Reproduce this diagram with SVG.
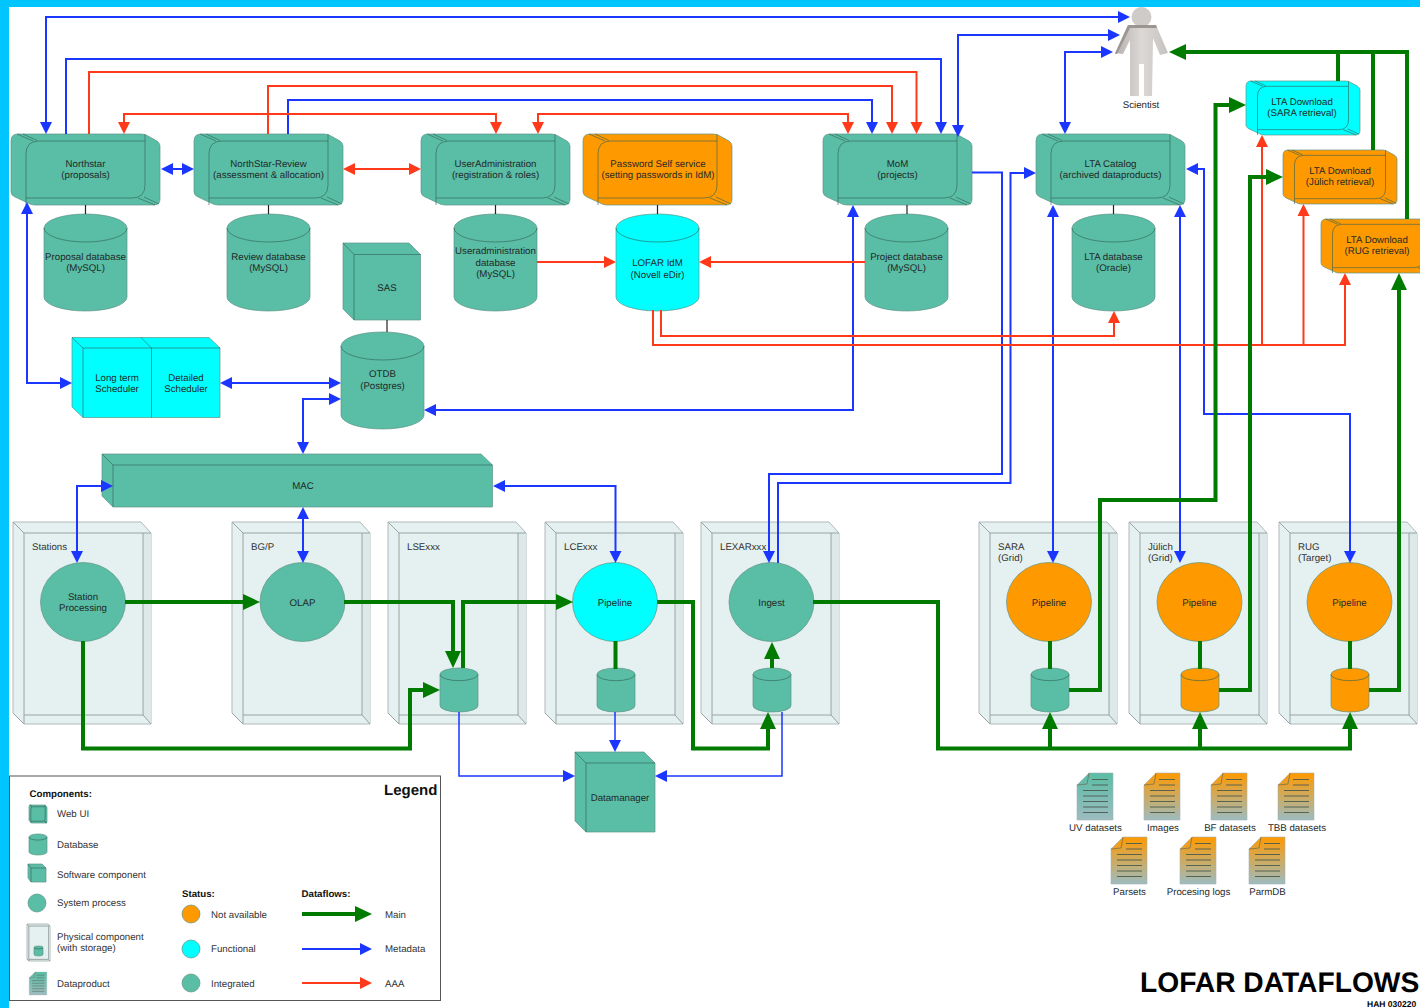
<svg xmlns="http://www.w3.org/2000/svg" xmlns:xlink="http://www.w3.org/1999/xlink" width="1420" height="1008" viewBox="0 0 1420 1008">
<style>
text{font-family:"Liberation Sans",Arial,sans-serif;font-size:9.7px;fill:#1f2a28;text-anchor:middle;text-rendering:geometricPrecision}
.l{text-anchor:start;fill:#333}
.h{text-anchor:start;font-weight:bold;fill:#111}
.t{fill:none;stroke:#2f5f54;stroke-width:.8;stroke-opacity:.75;vector-effect:non-scaling-stroke}
.o{stroke:#5f9587;stroke-width:.7;vector-effect:non-scaling-stroke}
.teal{fill:#5abda5}.cy{fill:#00ffff}.or{fill:#ff9900}
.conn path{fill:none}
.b{stroke:#1a36ff;stroke-width:2}
.b1{stroke:#1a36ff;stroke-width:1.5}
.r{stroke:#ff3a1a;stroke-width:2}
.g{stroke:#007b00;stroke-width:4}
.k{stroke:#222;stroke-width:1.2}
.ba{marker-end:url(#ab)}.bb{marker-start:url(#ab);marker-end:url(#ab)}
.ra{marker-end:url(#ar)}.rr{marker-start:url(#ar);marker-end:url(#ar)}
.ga{marker-end:url(#ag)}
</style>
<defs>
<marker id="ab" markerUnits="userSpaceOnUse" markerWidth="12" markerHeight="12" refX="0" refY="6" orient="auto-start-reverse" overflow="visible"><path d="M0 0L12 6L0 12Z" fill="#1a36ff"/></marker>
<marker id="ar" markerUnits="userSpaceOnUse" markerWidth="12" markerHeight="12" refX="0" refY="6" orient="auto-start-reverse" overflow="visible"><path d="M0 0L12 6L0 12Z" fill="#ff3a1a"/></marker>
<marker id="ag" markerUnits="userSpaceOnUse" markerWidth="17" markerHeight="16" refX="0" refY="8" orient="auto" overflow="visible"><path d="M0 0L17 8L0 16Z" fill="#007b00"/></marker>
<symbol id="ui" viewBox="0 0 149 71" preserveAspectRatio="none" overflow="visible">
<path class="o" d="M7 0H130Q134 0 137 2L146 7Q149 9 149 12V65Q149 71 143 71H24Q20 71 17 69L4 63Q0 61 0 58V7Q0 0 7 0Z"/>
<path class="t" d="M15 71V20Q15 7 28 7H134M134 0V51Q134 64 121 64H15M6 0L22 7M12 0L26 6.500M127 64L144 71M133 63L148 70"/>
</symbol>
<symbol id="db" viewBox="0 0 83 97" preserveAspectRatio="none" overflow="visible">
<path class="o" d="M0 14A41.5 14 0 0 1 83 14V83A41.5 14 0 0 1 0 83Z"/>
<path class="t" d="M0 14A41.5 14 0 0 0 83 14"/>
</symbol>
<symbol id="ph" viewBox="0 0 138 202" preserveAspectRatio="none" overflow="visible">
<path d="M0 0H128L138 11V202H11L0 191Z" fill="#e5f1f0" stroke="#b0b9b9" stroke-width="1" vector-effect="non-scaling-stroke"/>
<path d="M130 11H138V202L130 193Z" fill="#dde9e9"/>
<path d="M0 0L11 11V202M11 11H138M130 11V193H11M130 193L138 202M0 191L11 202" fill="none" stroke="#98a3a3" stroke-width="1" vector-effect="non-scaling-stroke"/>
</symbol>
<linearGradient id="go" x1="0" y1="0" x2="0" y2="1"><stop offset="0" stop-color="#ff9900"/><stop offset="1" stop-color="#9dbcc0"/></linearGradient>
<linearGradient id="gt" x1="0" y1="0" x2="0" y2="1"><stop offset="0" stop-color="#5abda5"/><stop offset="1" stop-color="#9dbcc0"/></linearGradient>
<linearGradient id="gs" x1="0" y1="0" x2="1" y2="0"><stop offset="0" stop-color="#b5b0ad"/><stop offset=".5" stop-color="#dcd8d6"/><stop offset="1" stop-color="#c6c2bf"/></linearGradient>
<symbol id="doc" viewBox="0 0 36 47" overflow="visible">
<path d="M12 0H36V47H0V12Z" stroke="#aab3b3" stroke-width=".6"/>
<path d="M0 12L10 11L12 0" fill="none" stroke="#6d6a50" stroke-width=".7"/>
<path d="M15 6.500H31M15 12H31M6 17.500H31M6 23H31M6 28.500H31M6 34H31M6 39.500H31" fill="none" stroke="#4c5a4c" stroke-width=".9"/>
</symbol>
</defs>
<rect width="1420" height="1008" fill="#fff"/>
<rect width="1420" height="7" fill="#00c5ff"/>
<rect width="9" height="1008" fill="#00c5ff"/>

<g id="physical">
<g id="ph-stations"><use href="#ph" x="13" y="522" width="138" height="202"/><text class="l" x="32" y="549.500">Stations</text></g>
<g id="ph-bgp"><use href="#ph" x="232" y="522" width="138" height="202"/><text class="l" x="251" y="549.500">BG/P</text></g>
<g id="ph-lse"><use href="#ph" x="388" y="522" width="138" height="202"/><text class="l" x="407" y="549.500">LSExxx</text></g>
<g id="ph-lce"><use href="#ph" x="545" y="522" width="138" height="202"/><text class="l" x="564" y="549.500">LCExxx</text></g>
<g id="ph-lexar"><use href="#ph" x="701" y="522" width="138" height="202"/><text class="l" x="720" y="549.500">LEXARxxx</text></g>
<g id="ph-sara"><use href="#ph" x="979" y="522" width="138" height="202"/><text class="l" x="998" y="549.500">SARA</text><text class="l" x="998" y="561">(Grid)</text></g>
<g id="ph-julich"><use href="#ph" x="1129" y="522" width="138" height="202"/><text class="l" x="1148" y="549.500">Jülich</text><text class="l" x="1148" y="561">(Grid)</text></g>
<g id="ph-rug"><use href="#ph" x="1279" y="522" width="138" height="202"/><text class="l" x="1298" y="549.500">RUG</text><text class="l" x="1298" y="561">(Target)</text></g>
</g>

<g id="nodes">
<g id="northstar" class="teal"><use href="#ui" x="11" y="134" width="149" height="71"/><text x="85.500" y="166.500">Northstar</text><text x="85.500" y="178">(proposals)</text></g>
<g id="review" class="teal"><use href="#ui" x="194" y="134" width="149" height="71"/><text x="268.500" y="166.500">NorthStar-Review</text><text x="268.500" y="178">(assessment &amp; allocation)</text></g>
<g id="useradmin" class="teal"><use href="#ui" x="421" y="134" width="149" height="71"/><text x="495.500" y="166.500">UserAdministration</text><text x="495.500" y="178">(registration &amp; roles)</text></g>
<g id="password" class="or"><use href="#ui" x="583" y="134" width="149" height="71"/><text x="658" y="166.500">Password Self service</text><text x="658" y="178">(setting passwords in IdM)</text></g>
<g id="mom" class="teal"><use href="#ui" x="823" y="134" width="149" height="71"/><text x="897.500" y="166.500">MoM</text><text x="897.500" y="178">(projects)</text></g>
<g id="ltacatalog" class="teal"><use href="#ui" x="1036" y="134" width="149" height="71"/><text x="1110.500" y="166.500">LTA Catalog</text><text x="1110.500" y="178">(archived dataproducts)</text></g>
<g id="lta-sara" class="cy"><use href="#ui" x="1246" y="81" width="114" height="54"/><text x="1302" y="104.500">LTA Download</text><text x="1302" y="116">(SARA retrieval)</text></g>
<g id="lta-julich" class="or"><use href="#ui" x="1283" y="150" width="114" height="54"/><text x="1340" y="173.500">LTA Download</text><text x="1340" y="185">(Jülich retrieval)</text></g>
<g id="lta-rug" class="or"><use href="#ui" x="1321" y="219" width="114" height="54"/><text x="1377" y="242.500">LTA Download</text><text x="1377" y="254">(RUG retrieval)</text></g>

<g id="db-proposal" class="teal"><use href="#db" x="44" y="214" width="83" height="97"/><text x="85.500" y="259.500">Proposal database</text><text x="85.500" y="271">(MySQL)</text></g>
<g id="db-review" class="teal"><use href="#db" x="227" y="214" width="83" height="97"/><text x="268.500" y="259.500">Review database</text><text x="268.500" y="271">(MySQL)</text></g>
<g id="db-useradmin" class="teal"><use href="#db" x="454" y="214" width="83" height="97"/><text x="495.500" y="254">Useradministration</text><text x="495.500" y="265.500">database</text><text x="495.500" y="277">(MySQL)</text></g>
<g id="db-idm" class="cy"><use href="#db" x="616" y="214" width="83" height="97"/><text x="657.500" y="266">LOFAR IdM</text><text x="657.500" y="277.500">(Novell eDir)</text></g>
<g id="db-project" class="teal"><use href="#db" x="865" y="214" width="83" height="97"/><text x="906.500" y="259.500">Project database</text><text x="906.500" y="271">(MySQL)</text></g>
<g id="db-lta" class="teal"><use href="#db" x="1072" y="214" width="83" height="97"/><text x="1113.500" y="259.500">LTA database</text><text x="1113.500" y="271">(Oracle)</text></g>
<g id="db-otdb" class="teal"><use href="#db" x="341" y="332" width="83" height="97"/><text x="382.500" y="377">OTDB</text><text x="382.500" y="388.500">(Postgres)</text></g>

<g id="sas" class="teal"><path class="o" d="M343 243H409L420.500 254.500V320H354L343 309Z"/><path class="t" d="M343 243L354 254.500H420.500M354 254.500V320"/><text x="387" y="290.500">SAS</text></g>
<g id="schedulers" class="cy"><path class="o" d="M72 337.500H209L220 348V417.500H83L72 407Z"/><path class="t" d="M72 337.500L83 348H220M83 348V417.500M141 337.500L151.500 348V417.500"/><text x="117" y="380.500">Long term</text><text x="117" y="392">Scheduler</text><text x="186" y="380.500">Detailed</text><text x="186" y="392">Scheduler</text></g>
<g id="mac" class="teal"><path class="o" d="M102 454H481L492.500 465V507H113L102 496Z"/><path class="t" d="M102 454L113 465H492.500M113 465V507"/><text x="303" y="489">MAC</text></g>
<g id="datamanager" class="teal"><path class="o" d="M575 752H644L655 763V832H586L575 821Z"/><path class="t" d="M575 752L586 763H655M586 763V832"/><text x="620" y="800.500">Datamanager</text></g>

<g id="p-station" class="teal"><ellipse class="o" cx="83" cy="602" rx="42.500" ry="39.500"/><text x="83" y="599.500">Station</text><text x="83" y="611">Processing</text></g>
<g id="p-olap" class="teal"><ellipse class="o" cx="302.500" cy="602" rx="42.500" ry="39.500"/><text x="302.500" y="605.500">OLAP</text></g>
<g id="p-pipeline" class="cy"><ellipse class="o" cx="615" cy="602" rx="42.500" ry="39.500"/><text x="615" y="605.500">Pipeline</text></g>
<g id="p-ingest" class="teal"><ellipse class="o" cx="771.500" cy="602" rx="42.500" ry="39.500"/><text x="771.500" y="605.500">Ingest</text></g>
<g id="p-sara" class="or"><ellipse class="o" cx="1049" cy="602" rx="42.500" ry="39.500"/><text x="1049" y="605.500">Pipeline</text></g>
<g id="p-julich" class="or"><ellipse class="o" cx="1199.500" cy="602" rx="42.500" ry="39.500"/><text x="1199.500" y="605.500">Pipeline</text></g>
<g id="p-rug" class="or"><ellipse class="o" cx="1349.500" cy="602" rx="42.500" ry="39.500"/><text x="1349.500" y="605.500">Pipeline</text></g>

<g id="s-lse" class="teal"><use href="#db" x="440" y="668" width="38" height="44"/></g>
<g id="s-lce" class="teal"><use href="#db" x="597" y="668" width="38" height="44"/></g>
<g id="s-lexar" class="teal"><use href="#db" x="753" y="668" width="38" height="44"/></g>
<g id="s-sara" class="teal"><use href="#db" x="1031" y="668" width="38" height="44"/></g>
<g id="s-julich" class="or"><use href="#db" x="1181" y="668" width="38" height="44"/></g>
<g id="s-rug" class="or"><use href="#db" x="1331" y="668" width="38" height="44"/></g>

<g id="scientist">
<circle cx="1141.500" cy="17" r="10" fill="#cfcbc9"/>
<path d="M1128 25H1156L1168 53L1160 55L1153 38L1152 96H1144V64H1139V96H1130V40L1123 54L1115 53Z" fill="url(#gs)"/>
<path d="M1128 25H1156L1157 28H1130L1117 54H1115Z" fill="#9b9692"/>
<text x="1141" y="108" fill="#333">Scientist</text>
</g>

<g id="d-uv" fill="url(#gt)"><use href="#doc" x="1077" y="773" width="36" height="47"/><text x="1095.500" y="831">UV datasets</text></g>
<g id="d-images" fill="url(#go)"><use href="#doc" x="1144" y="773" width="36" height="47"/><text x="1163" y="831">Images</text></g>
<g id="d-bf" fill="url(#go)"><use href="#doc" x="1211" y="773" width="36" height="47"/><text x="1230" y="831">BF datasets</text></g>
<g id="d-tbb" fill="url(#go)"><use href="#doc" x="1278" y="773" width="36" height="47"/><text x="1297" y="831">TBB datasets</text></g>
<g id="d-parsets" fill="url(#go)"><use href="#doc" x="1111" y="837" width="36" height="47"/><text x="1129.500" y="895">Parsets</text></g>
<g id="d-logs" fill="url(#go)"><use href="#doc" x="1180" y="837" width="36" height="47"/><text x="1198.500" y="895">Procesing logs</text></g>
<g id="d-parmdb" fill="url(#go)"><use href="#doc" x="1249" y="837" width="36" height="47"/><text x="1267.500" y="895">ParmDB</text></g>
</g>

<g id="connectors" class="conn">
<path class="k" d="M85.500 205V214M268.500 205V214M495.500 205V214M657.500 205V214M907 205V214M1113.500 205V214M387 320V332"/>
<path class="b bb" d="M46 122V17H1118"/>
<path class="b ba" d="M66 134V59H941V122"/>
<path class="b ba" d="M288 134V100H872V122"/>
<path class="b bb" d="M958 125V35H1108"/>
<path class="b bb" d="M1065 122V52H1101"/>
<path class="b ba" d="M972 172.500H1002V474H769V551"/>
<path class="b ba" d="M778 563V483H1010.500V173H1024"/>
<path class="b bb" d="M853 217V410H436"/>
<path class="b bb" d="M1053 217V551"/>
<path class="b bb" d="M1180 217V551"/>
<path class="b bb" d="M1198 169H1204V414H1350V551"/>
<path class="b bb" d="M173 169H182"/>
<path class="b bb" d="M27 214V383H60"/>
<path class="b bb" d="M232 383H329"/>
<path class="b bb" d="M303 442V399H329"/>
<path class="b bb" d="M77 551V486H101"/>
<path class="b bb" d="M303 519V551"/>
<path class="b bb" d="M505 486H615.500V551"/>
<path class="b1 ba" d="M459 712V776H563"/>
<path class="b1 ba" d="M615 712V740"/>
<path class="b1 ba" d="M782 712V776H667"/>
<path class="r ra" d="M89 134V72H916.500V122"/>
<path class="r ra" d="M268 134V86H892V122"/>
<path class="r rr" d="M124 122V114H496V122"/>
<path class="r rr" d="M538 122V114H848V122"/>
<path class="r rr" d="M355 169H409"/>
<path class="r ra" d="M537 262H604"/>
<path class="r ra" d="M865 262H711"/>
<path class="r ra" d="M661 310V336H1114V323"/>
<path class="r ra" d="M653 310V345H1345V285"/>
<path class="r ra" d="M1262 345V147"/>
<path class="r ra" d="M1303.500 345V216"/>
<path class="g ga" d="M125 602H243"/>
<path class="g ga" d="M344 602H453V651"/>
<path class="g ga" d="M463 668V602H556"/>
<path class="g ga" d="M83 641V748.500H410V690H423"/>
<path class="g ga" d="M657 602H693V748.500H768V729"/>
<path class="g ga" d="M772 668V659"/>
<path class="g ga" d="M813 602H938V748.500H1350V729"/>
<path class="g ga" d="M1050 748.500V729"/>
<path class="g ga" d="M1200 748.500V729"/>
<path class="g" d="M615.500 641V669M1050 641V669M1200 641V669M1350 641V669"/>
<path class="g ga" d="M1069 690H1100V500H1215.500V105H1229"/>
<path class="g ga" d="M1219 690H1250V177H1266"/>
<path class="g ga" d="M1369 690H1399V290"/>
<path class="g ga" d="M1407 219V52H1186"/>
<path class="g" d="M1373 150V52M1338 81V52"/>
</g>

<g id="legend">
<rect x="9.500" y="776" width="431" height="224.500" fill="#fff" stroke="#555" stroke-width="1"/>
<text class="h" x="384" y="795" style="font-size:15px">Legend</text>
<text class="h" x="29.500" y="796.500">Components:</text>
<g id="lg-webui" class="teal"><use href="#ui" x="29" y="805" width="18" height="18"/><text class="l" x="57" y="816.500">Web UI</text></g>
<g id="lg-db" class="teal"><use href="#db" x="29" y="834" width="18" height="21"/><text class="l" x="57" y="847.500">Database</text></g>
<g id="lg-sw" class="teal"><path class="o" d="M28 864H42L46 868V882H31L28 878Z"/><path class="t" d="M28 864L31 868H46M31 868V882"/><text class="l" x="57" y="877.500">Software component</text></g>
<g id="lg-proc" class="teal"><circle class="o" cx="37" cy="903" r="9"/><text class="l" x="57" y="906">System process</text></g>
<g id="lg-phys"><use href="#ph" x="27" y="924" width="23" height="37"/><g class="teal"><use href="#db" x="34" y="946" width="9" height="10"/></g><text class="l" x="57" y="939.500">Physical component</text><text class="l" x="57" y="951">(with storage)</text></g>
<g id="lg-doc"><use href="#doc" x="29" y="972" width="18" height="23" fill="url(#gt)"/><text class="l" x="57" y="986.500">Dataproduct</text></g>
<text class="h" x="182" y="896.500">Status:</text>
<g id="lg-na" class="or"><circle class="o" cx="191" cy="914" r="9"/><text class="l" x="211" y="917.500">Not available</text></g>
<g id="lg-fn" class="cy"><circle class="o" cx="191" cy="949" r="9"/><text class="l" x="211" y="952">Functional</text></g>
<g id="lg-in" class="teal"><circle class="o" cx="191" cy="983" r="9"/><text class="l" x="211" y="986.500">Integrated</text></g>
<text class="h" x="301.500" y="896.500">Dataflows:</text>
<path class="g ga" d="M302 914H355" fill="none"/><text class="l" x="385" y="917.500">Main</text>
<path class="b ba" d="M302 949H360" fill="none"/><text class="l" x="385" y="952">Metadata</text>
<path class="r ra" d="M302 983H360" fill="none"/><text class="l" x="385" y="986.500">AAA</text>
</g>

<text id="title" class="h" x="1140" y="992" style="font-size:28.200px;fill:#000">LOFAR DATAFLOWS</text>
<text id="stamp" class="h" x="1367" y="1006.500" style="font-size:8.500px;fill:#000">HAH 030220</text>
</svg>
